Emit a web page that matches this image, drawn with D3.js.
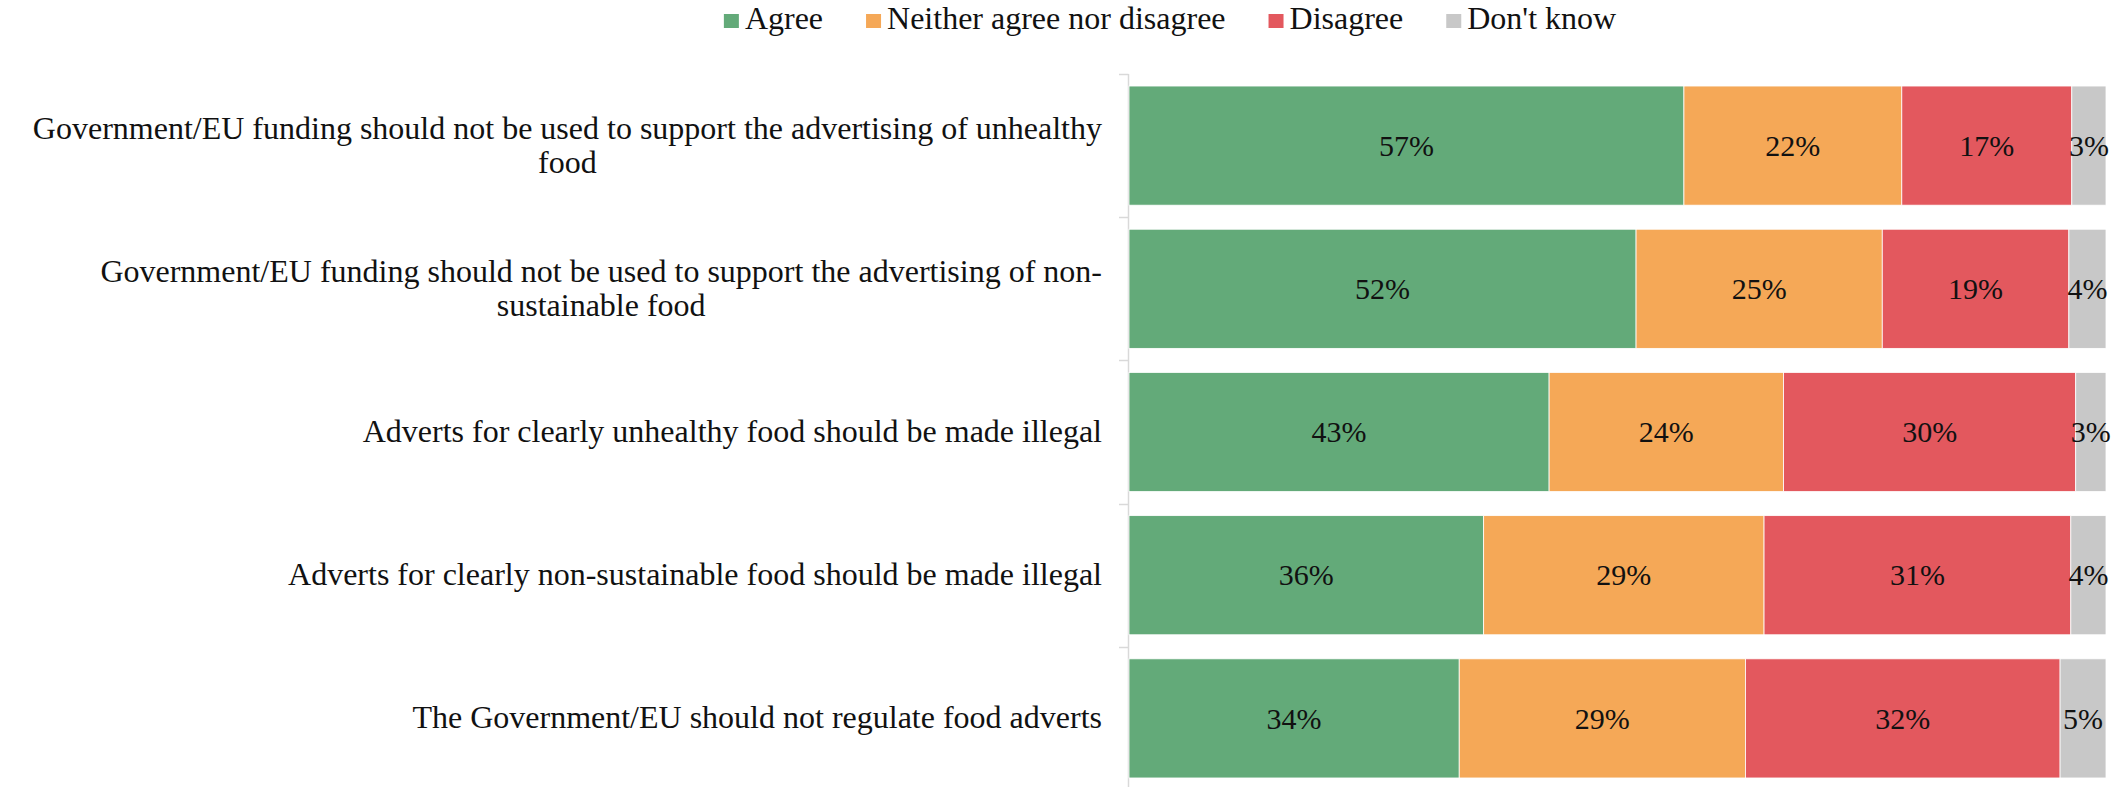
<!DOCTYPE html>
<html>
<head>
<meta charset="utf-8">
<script src="https://cdn.jsdelivr.net/npm/d3@7"></script>
<style>
  html, body { margin: 0; padding: 0; background: #ffffff; }
  svg { display: block; }
  text { font-family: Georgia, "Liberation Serif", serif; fill: #111; }
</style>
</head>
<body>
<div id="chart"></div>
<script>
// ---- data ----
const categories = [
  "Government/EU funding should not be used to support the advertising of unhealthy\nfood",
  "Government/EU funding should not be used to support the advertising of non-\nsustainable food",
  "Adverts for clearly unhealthy food should be made illegal",
  "Adverts for clearly non-sustainable food should be made illegal",
  "The Government/EU should not regulate food adverts"
];
const seriesNames = ["Agree", "Neither agree nor disagree", "Disagree", "Don't know"];
const agree    = [56.8, 51.9, 43.0, 36.3, 33.8];
const neither  = [22.3, 25.2, 24.0, 28.7, 29.3];
const disagree = [17.4, 19.1, 29.9, 31.4, 32.2];
const dontKnow = [3.5, 3.8, 3.1, 3.6, 4.7];
const agreeLabels    = ["57%", "52%", "43%", "36%", "34%"];
const neitherLabels  = ["22%", "25%", "24%", "29%", "29%"];
const disagreeLabels = ["17%", "19%", "30%", "31%", "32%"];
const dontKnowLabels = ["3%", "4%", "3%", "4%", "5%"];
const seriesColors = ["#63aa79", "#f5a857", "#e3585e", "#c8c8c8"];

// ---- build ----
const W = 2118, H = 787;
const FONT = 32, LABEL_FONT = 30;
const svg = d3.select("#chart").append("svg").attr("width", W).attr("height", H);

const seriesValues = [agree, neither, disagree, dontKnow];
const seriesLabels = [agreeLabels, neitherLabels, disagreeLabels, dontKnowLabels];
const keys = seriesNames;
const rows = categories.map((c, i) => {
  const r = { category: c };
  keys.forEach((k, j) => { r[k] = seriesValues[j][i]; });
  return r;
});
const stacked = d3.stack().keys(keys)(rows);

const x = d3.scaleLinear().domain([0, 100]).range([1129, 2106]);
const y = d3.scaleBand().domain(categories).range([74, 790]).paddingInner(0.168).paddingOuter(0.084);
const color = d3.scaleOrdinal().domain(keys).range(seriesColors);

// axis line + boundary ticks
const axisG = svg.append("g");
axisG.append("line")
  .attr("x1", 1128.5).attr("x2", 1128.5)
  .attr("y1", y.range()[0]).attr("y2", H)
  .attr("stroke", "#d9d9d9").attr("stroke-width", 1.5);
const boundaries = categories.map(c => y(c) - y.step() * y.paddingInner() / 2);
axisG.selectAll("line.tick").data(boundaries).join("line")
  .attr("class", "tick")
  .attr("x1", 1119).attr("x2", 1128.5)
  .attr("y1", d => Math.round(d) + 0.5).attr("y2", d => Math.round(d) + 0.5)
  .attr("stroke", "#d9d9d9").attr("stroke-width", 1.5);

// bars
const layers = svg.append("g").selectAll("g").data(stacked).join("g")
  .attr("fill", d => color(d.key));
layers.selectAll("rect").data(d => d).join("rect")
  .attr("x", d => x(d[0]))
  .attr("width", d => x(d[1]) - x(d[0]))
  .attr("y", d => y(d.data.category))
  .attr("height", y.bandwidth())
  .attr("stroke", "#ffffff").attr("stroke-width", 0.8);

// data labels
stacked.forEach((layer, j) => {
  svg.append("g").selectAll("text").data(layer).join("text")
    .attr("x", d => (x(d[0]) + x(d[1])) / 2)
    .attr("y", d => y(d.data.category) + y.bandwidth() / 2 + LABEL_FONT * 0.34)
    .attr("text-anchor", "middle")
    .attr("font-size", LABEL_FONT)
    .text((d, i) => seriesLabels[j][i]);
});

// category labels
const catG = svg.append("g");
categories.forEach(c => {
  const lines = c.split("\n");
  const cy = y(c) + y.bandwidth() / 2;
  const t = catG.append("text").attr("font-size", FONT).attr("text-anchor", "middle");
  lines.forEach((ln, i) => {
    t.append("tspan")
      .attr("y", cy + (i - (lines.length - 1) / 2) * 34 + 10)
      .text(ln);
  });
  let maxW = 0;
  t.selectAll("tspan").each(function () { maxW = Math.max(maxW, this.getComputedTextLength()); });
  t.selectAll("tspan").attr("x", 1102 - maxW / 2);
});

// legend
const legend = svg.append("g");
let cx = 0;
keys.forEach((k, i) => {
  const g = legend.append("g").attr("transform", `translate(${cx},0)`);
  g.append("rect").attr("x", 0).attr("y", 14).attr("width", 15).attr("height", 14).attr("fill", color(k));
  const t = g.append("text").attr("x", 21).attr("y", 29).attr("font-size", FONT).text(k);
  const w = t.node().getComputedTextLength();
  cx += 21 + w + (i < keys.length - 1 ? 43 : 0);
});
legend.attr("transform", `translate(${1170 - cx / 2},0)`);
</script>
</body>
</html>
